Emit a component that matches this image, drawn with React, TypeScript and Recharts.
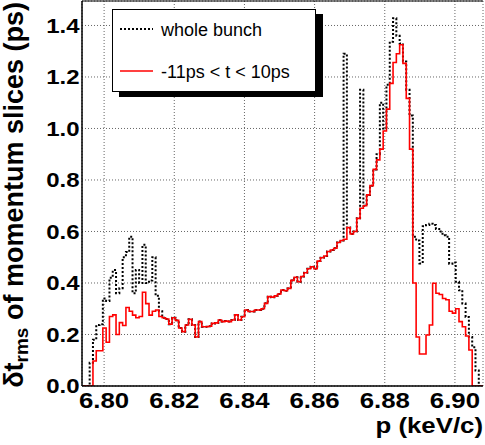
import React from 'react';
import { LineChart, Line, XAxis, YAxis, CartesianGrid, Legend } from 'recharts';

const FONT = '"Liberation Sans", Arial, Helvetica, sans-serif';

// histogram binning (low edge of first bin, bin width) in keV/c
const BIN_START = 6.794;
const BIN_WIDTH = 0.00094;
const X_DOMAIN: [number, number] = [6.7937, 6.908];
const Y_DOMAIN: [number, number] = [0, 1.495];

const X_MAJOR = [6.8, 6.82, 6.84, 6.86, 6.88, 6.9];
const X_MINOR = [6.795, 6.805, 6.81, 6.815, 6.825, 6.83, 6.835, 6.845, 6.85, 6.855, 6.865, 6.87, 6.875, 6.885, 6.89, 6.895, 6.905];
const Y_MAJOR = [0, 0.2, 0.4, 0.6, 0.8, 1.0, 1.2, 1.4];
const Y_MINOR = [0.05, 0.1, 0.15, 0.25, 0.3, 0.35, 0.45, 0.5, 0.55, 0.65, 0.7, 0.75, 0.85, 0.9, 0.95, 1.05, 1.1, 1.15, 1.25, 1.3, 1.35, 1.45];

const SERIES_NAMES = ['whole bunch', '-11ps < t < 10ps'];

// -11ps < t < 10ps  (red)
const RED = [
  0, 0, 0, 0.097, 0.137, 0.137, 0.225, 0.17, 0.27, 0.276,
  0.2, 0.246, 0.235, 0.305, 0.29, 0.275, 0.265, 0.27, 0.364, 0.32,
  0.275, 0.29, 0.295, 0.27, 0.265, 0.26, 0.24, 0.265, 0.255, 0.225,
  0.211, 0.237, 0.259, 0.237, 0.19, 0.25, 0.23, 0.23, 0.232, 0.243,
  0.245, 0.256, 0.25, 0.252, 0.25, 0.256, 0.276, 0.256, 0.269, 0.295,
  0.289, 0.289, 0.295, 0.295, 0.3, 0.321, 0.347, 0.345, 0.35, 0.357,
  0.373, 0.37, 0.379, 0.41, 0.422, 0.405, 0.425, 0.44, 0.455, 0.463,
  0.455, 0.485, 0.498, 0.505, 0.522, 0.528, 0.535, 0.557, 0.565, 0.57,
  0.615, 0.59, 0.6, 0.651, 0.69, 0.7, 0.742, 0.778, 0.841, 0.878,
  0.92, 0.99, 1.075, 1.175, 1.256, 1.29, 1.325, 1.253, 1.117, 0.92,
  0.4, 0.19, 0.124, 0.124, 0.198, 0.237, 0.399, 0.36, 0.355, 0.34,
  0.335, 0.29, 0.283, 0.3, 0.25, 0.23, 0.194, 0.14, 0, 0,
  0,
];

// whole bunch (black dotted)
const BLACK = [
  0, 0, 0.09, 0.18, 0.237, 0.24, 0.34, 0.33, 0.42, 0.45,
  0.36, 0.38, 0.5, 0.52, 0.58, 0.36, 0.45, 0.4, 0.548, 0.4,
  0.41, 0.5, 0.35, 0.29, 0.265, 0.26, 0.24, 0.265, 0.255, 0.225,
  0.211, 0.237, 0.259, 0.237, 0.19, 0.25, 0.23, 0.23, 0.232, 0.243,
  0.245, 0.256, 0.25, 0.252, 0.25, 0.256, 0.276, 0.256, 0.269, 0.295,
  0.289, 0.289, 0.295, 0.295, 0.3, 0.321, 0.347, 0.345, 0.35, 0.357,
  0.373, 0.37, 0.379, 0.41, 0.422, 0.405, 0.425, 0.44, 0.455, 0.463,
  0.455, 0.485, 0.498, 0.505, 0.522, 0.528, 0.535, 0.557, 0.565, 1.29,
  0.615, 0.59, 0.6, 0.651, 1.15, 0.7, 0.742, 0.778, 0.841, 0.9,
  1.1, 1.0, 1.17, 1.337, 1.428, 1.36, 1.33, 1.26, 1.15, 1.05,
  0.58, 0.565, 0.476, 0.62, 0.625, 0.63, 0.625, 0.61, 0.6, 0.585,
  0.58, 0.475, 0.48, 0.405, 0.372, 0.32, 0.268, 0.19, 0.15, 0.06,
  0,
];

const data = RED.map((r, j) => ({ p: BIN_START + j * BIN_WIDTH, red: r, black: BLACK[j] }));
data.push({ p: X_DOMAIN[1], red: RED[RED.length - 1], black: BLACK[BLACK.length - 1] });

const THIN = 0.01;

const XTick = (props: any) => {
  const { x, y, payload } = props;
  return (
    <text
      transform={`translate(${x},${y + 22}) scale(1.2,1)`}
      textAnchor="middle"
      fontSize={21.5}
      fontWeight="bold"
      fontFamily={FONT}
      fill="#000"
    >
      {Number(payload.value).toFixed(2)}
    </text>
  );
};

const YTick = (props: any) => {
  const { x, y, payload } = props;
  return (
    <text
      transform={`translate(${x - 2.5},${y + 7.2}) scale(1.2,1)`}
      textAnchor="end"
      fontSize={20}
      fontWeight="bold"
      fontFamily={FONT}
      fill="#000"
    >
      {Number(payload.value).toFixed(1)}
    </text>
  );
};

const XTitle = () => (
  <text
    transform="translate(483,433) scale(1.2,1)"
    textAnchor="end"
    fontSize={21.5}
    fontWeight="bold"
    fontFamily={FONT}
    fill="#000"
  >
    p (keV/c)
  </text>
);

const YTitle = () => (
  <text
    transform="translate(23,2) rotate(-90)"
    textAnchor="end"
    fontSize={27}
    fontWeight="bold"
    fontFamily={FONT}
    fill="#000"
  >
    <tspan>δt</tspan>
    <tspan fontSize={19} dy={5}>rms</tspan>
    <tspan dy={-5}> of momentum slices (ps)</tspan>
  </text>
);

const LegendBox = (props: any) => {
  const payload = [...(props.payload || [])].sort(
    (a: any, b: any) => SERIES_NAMES.indexOf(a.value) - SERIES_NAMES.indexOf(b.value)
  );
  return (
    <div
      style={{
        width: 204,
        height: 83,
        border: '1px solid #000',
        background: '#fff',
        boxShadow: '7px 5px 0 0 #000',
        boxSizing: 'border-box',
      }}
    >
      <svg width={202} height={81} style={{ display: 'block' }}>
        {payload.map((entry: any, i: number) => {
          const cy = 19 + i * 42;
          const dotted = entry.value === SERIES_NAMES[0];
          return (
            <g key={i}>
              <line
                x1={7}
                x2={40}
                y1={cy}
                y2={cy}
                stroke={entry.color}
                strokeWidth={dotted ? 2 : 1.6}
                strokeDasharray={dotted ? '2 2' : undefined}
              />
              <text x={48} y={cy + 6.5} fontSize={18} fontFamily={FONT} fill="#000">
                {entry.value}
              </text>
            </g>
          );
        })}
      </svg>
    </div>
  );
};

export default function App() {
  return (
    <div style={{ position: 'absolute', left: 0, top: 0, width: 485, height: 445, background: '#fff' }}>
      <LineChart width={485} height={445} data={data} margin={{ top: 1, right: 2, bottom: 59, left: 82 }}>
        <CartesianGrid stroke="#666" strokeDasharray="1 2" xAxisId={0} yAxisId={0} />
        <XAxis
          xAxisId={0}
          dataKey="p"
          type="number"
          domain={X_DOMAIN}
          allowDataOverflow
          ticks={X_MAJOR}
          interval={0}
          tickLine={false}
          tickSize={0}
          tickMargin={0}
          tick={<XTick />}
          axisLine={{ stroke: '#000', strokeWidth: 1.5 }}
          height={THIN}
          label={<XTitle />}
        />
        <XAxis
          xAxisId="xminor"
          dataKey="p"
          type="number"
          domain={X_DOMAIN}
          allowDataOverflow
          ticks={X_MINOR}
          interval={0}
          mirror
          tickSize={5}
          tick={false}
          axisLine={false}
          tickLine={{ stroke: '#000', strokeWidth: 1 }}
          height={THIN}
        />
        <XAxis
          xAxisId="xmajor"
          dataKey="p"
          type="number"
          domain={X_DOMAIN}
          allowDataOverflow
          ticks={X_MAJOR}
          interval={0}
          mirror
          tickSize={11}
          tick={false}
          axisLine={false}
          tickLine={{ stroke: '#000', strokeWidth: 1.2 }}
          height={THIN}
        />
        <XAxis
          xAxisId="xtop"
          orientation="top"
          dataKey="p"
          type="number"
          domain={X_DOMAIN}
          allowDataOverflow
          ticks={X_MAJOR}
          tick={false}
          tickLine={false}
          axisLine={{ stroke: '#000', strokeWidth: 1 }}
          height={THIN}
        />
        <YAxis
          yAxisId={0}
          type="number"
          domain={Y_DOMAIN}
          allowDataOverflow
          ticks={Y_MAJOR}
          interval={0}
          tickLine={false}
          tickSize={0}
          tickMargin={0}
          tick={<YTick />}
          axisLine={{ stroke: '#000', strokeWidth: 1.5 }}
          width={THIN}
          label={<YTitle />}
        />
        <YAxis
          yAxisId="yminor"
          type="number"
          domain={Y_DOMAIN}
          allowDataOverflow
          ticks={Y_MINOR}
          interval={0}
          mirror
          tickSize={5}
          tick={false}
          axisLine={false}
          tickLine={{ stroke: '#000', strokeWidth: 1 }}
          width={THIN}
        />
        <YAxis
          yAxisId="ymajor"
          type="number"
          domain={Y_DOMAIN}
          allowDataOverflow
          ticks={Y_MAJOR}
          interval={0}
          mirror
          tickSize={11}
          tick={false}
          axisLine={false}
          tickLine={{ stroke: '#000', strokeWidth: 1.2 }}
          width={THIN}
        />
        <Legend
          verticalAlign="middle"
          align="center"
          content={<LegendBox />}
          wrapperStyle={{ position: 'absolute', left: 112, top: 9, width: 204, height: 83 }}
        />
        <Line
          xAxisId={0}
          yAxisId={0}
          type="stepAfter"
          dataKey="black"
          name={SERIES_NAMES[0]}
          stroke="#000"
          strokeWidth={2}
          strokeDasharray="2 2"
          dot={false}
          activeDot={false}
          isAnimationActive={false}
        />
        <Line
          xAxisId={0}
          yAxisId={0}
          type="stepAfter"
          dataKey="red"
          name={SERIES_NAMES[1]}
          stroke="#ff0000"
          strokeWidth={1.6}
          dot={false}
          activeDot={false}
          isAnimationActive={false}
        />
      </LineChart>
    </div>
  );
}
